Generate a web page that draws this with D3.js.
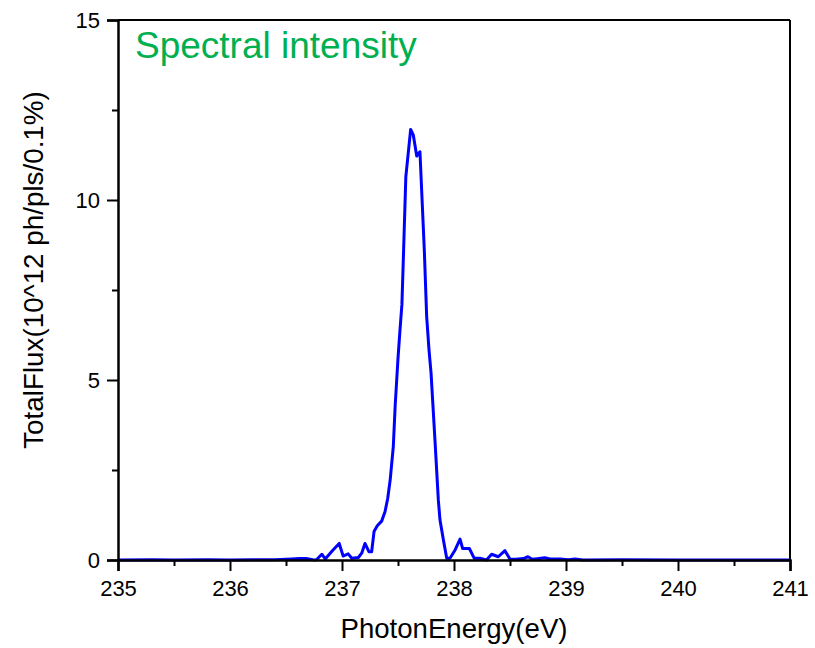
<!DOCTYPE html>
<html>
<head>
<meta charset="utf-8">
<script src="https://cdn.jsdelivr.net/npm/d3@7"></script>
<style>
  html, body { margin: 0; padding: 0; background: #ffffff; }
  svg { display: block; font-family: Arial, "Liberation Sans", sans-serif; }
</style>
</head>
<body>
<svg id="chart" width="815" height="648"></svg>
<script>
// ---- data ----
const energy = [
  235.00, 235.30, 235.50, 235.80, 236.00, 236.20, 236.40, 236.55, 236.62, 236.68,
  236.74, 236.77, 236.82, 236.85, 236.92, 236.975, 237.01, 237.055, 237.087, 237.146,
  237.176, 237.205, 237.24, 237.265, 237.286, 237.315, 237.354, 237.384, 237.408, 237.43,
  237.458, 237.475, 237.50, 237.518, 237.535, 237.55, 237.57, 237.613, 237.637, 237.667,
  237.696, 237.735, 237.756, 237.777, 237.795, 237.81, 237.83, 237.86, 237.875, 237.905,
  237.935, 237.964, 238.01, 238.054, 238.077, 238.137, 238.18, 238.23, 238.29, 238.336,
  238.395, 238.455, 238.50, 238.55, 238.62, 238.66, 238.70, 238.76, 238.81, 238.86,
  238.95, 239.02, 239.08, 239.15, 239.50, 240.00, 240.50, 241.00
];
const totalFlux = [
  0.00, 0.01, 0.00, 0.01, 0.00, 0.01, 0.01, 0.03, 0.04, 0.04,
  0.01, 0.00, 0.16, 0.03, 0.28, 0.46, 0.11, 0.17, 0.05, 0.07,
  0.19, 0.46, 0.23, 0.23, 0.79, 0.95, 1.08, 1.34, 1.71, 2.22,
  3.15, 4.30, 5.60, 6.40, 7.10, 8.60, 10.65, 11.96, 11.80, 11.22,
  11.34, 8.60, 6.76, 5.83, 5.20, 4.40, 3.33, 1.67, 1.11, 0.56,
  0.05, 0.05, 0.28, 0.58, 0.32, 0.32, 0.05, 0.05, 0.00, 0.16,
  0.09, 0.26, 0.02, 0.02, 0.04, 0.09, 0.02, 0.04, 0.06, 0.03,
  0.03, 0.01, 0.03, 0.00, 0.01, 0.00, 0.00, 0.00
];
const xTicks = [235, 236, 237, 238, 239, 240, 241];
const xMinorTicks = [235.5, 236.5, 237.5, 238.5, 239.5, 240.5];
const yTicks = [0, 5, 10, 15];
const yMinorTicks = [2.5, 7.5, 12.5];
const titleText = "Spectral intensity";
const xLabel = "PhotonEnergy(eV)";
const yLabel = "TotalFlux(10^12 ph/pls/0.1%)";

// ---- layout ----
const W = 815, H = 648;
const margin = { top: 20, right: 25, bottom: 88, left: 118 };
const iw = W - margin.left - margin.right;
const ih = H - margin.top - margin.bottom;

const svg = d3.select("#chart");
const g = svg.append("g").attr("transform", `translate(${margin.left},${margin.top})`);

const x = d3.scaleLinear().domain([235, 241]).range([0, iw]);
const y = d3.scaleLinear().domain([0, 15]).range([ih, 0]);

// frame (top and right)
g.append("line").attr("x1", 0).attr("x2", iw).attr("y1", 0).attr("y2", 0)
  .attr("stroke", "#000").attr("stroke-width", 2);
g.append("line").attr("x1", iw).attr("x2", iw).attr("y1", 0).attr("y2", ih)
  .attr("stroke", "#000").attr("stroke-width", 2);

// data line
const line = d3.line().x((d, i) => x(energy[i])).y((d, i) => y(totalFlux[i]));
g.append("path")
  .datum(totalFlux)
  .attr("fill", "none")
  .attr("stroke", "#0000ff")
  .attr("stroke-width", 3)
  .attr("stroke-linejoin", "round")
  .attr("d", line);

// x axis
const xAxis = g.append("g").attr("transform", `translate(0,${ih})`)
  .call(d3.axisBottom(x).tickValues(xTicks).tickFormat(d3.format("d")).tickSize(11).tickPadding(6));
g.append("g").attr("transform", `translate(0,${ih})`)
  .call(d3.axisBottom(x).tickValues(xMinorTicks).tickFormat("").tickSize(6))
  .call(s => s.select(".domain").remove());

// y axis
const yAxis = g.append("g")
  .call(d3.axisLeft(y).tickValues(yTicks).tickFormat(d3.format("d")).tickSize(11).tickPadding(7));
g.append("g")
  .call(d3.axisLeft(y).tickValues(yMinorTicks).tickFormat("").tickSize(6))
  .call(s => s.select(".domain").remove());

svg.selectAll(".domain").attr("stroke", "#000").attr("stroke-width", 2.5);
svg.selectAll(".tick line").attr("stroke", "#000").attr("stroke-width", 2);
svg.selectAll(".tick text")
  .attr("fill", "#000")
  .style("font-family", "Arial, 'Liberation Sans', sans-serif")
  .style("font-size", "22px");
xAxis.selectAll(".tick text").attr("dy", "0.88em");

// title inside plot
g.append("text")
  .attr("x", 17).attr("y", 38)
  .attr("fill", "#00b050")
  .style("font-size", "37px")
  .text(titleText);

// axis labels
svg.append("text")
  .attr("x", margin.left + iw / 2).attr("y", 638)
  .attr("text-anchor", "middle")
  .attr("fill", "#000")
  .style("font-size", "27.6px")
  .text(xLabel);

svg.append("text")
  .attr("transform", `translate(43,${270}) rotate(-90)`)
  .attr("text-anchor", "middle")
  .attr("fill", "#000")
  .style("font-size", "27.8px")
  .text(yLabel);
</script>
</body>
</html>
